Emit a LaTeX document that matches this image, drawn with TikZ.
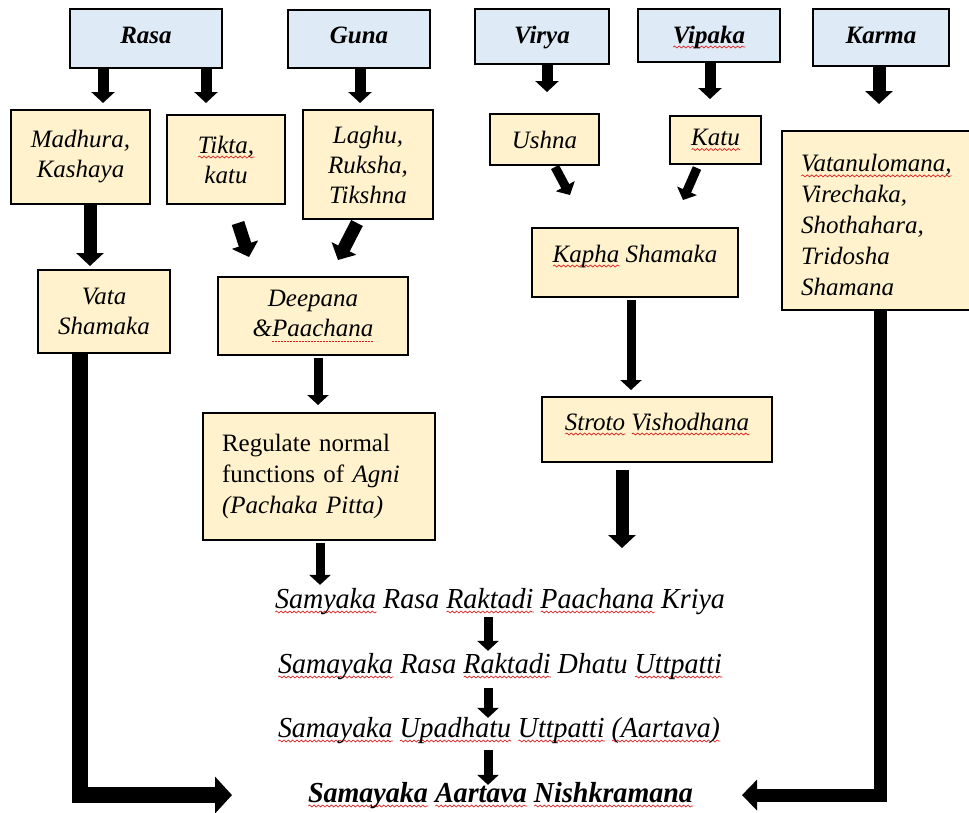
\documentclass[tikz,border=0pt]{standalone}
\usepackage{fontspec}
\setmainfont{Liberation Serif}
\usepackage{graphicx}
\usetikzlibrary{arrows.meta,decorations.pathmorphing,calc}
\definecolor{hdrblue}{HTML}{DEEBF7}
\definecolor{boxylw}{HTML}{FFF2CC}
\definecolor{squig}{HTML}{E02020}
\newsavebox\sqbox
\newsavebox\fitbox
\newcommand\sq[1]{\sbox\sqbox{#1}\rlap{\tikz[baseline=0pt]\draw[squig,line width=0.7pt,decorate,decoration={snake,amplitude=1pt,segment length=4.5pt}] (0pt,-4pt) -- (\the\wd\sqbox,-4pt);}\usebox\sqbox}
\newcommand\dq[1]{\sbox\sqbox{#1}\rlap{\tikz[baseline=0pt]\draw[squig,line width=0.9pt,dash pattern=on 1.5pt off 1.5pt] (0pt,-4pt) -- (\the\wd\sqbox,-4pt);}\usebox\sqbox}
\newcommand\fitto[2]{\sbox\fitbox{#2}\pgfmathsetmacro\fitsx{#1/\the\wd\fitbox}\scalebox{\fitsx}[1]{\usebox\fitbox}}
\begin{document}
\begin{tikzpicture}[x=1pt,y=-1pt,
  hdr/.style={draw,line width=2.5pt,fill=hdrblue,inner sep=0pt,outer sep=0pt,
    font=\fontsize{25}{30}\selectfont\bfseries\itshape,text height=17pt},
  ybox/.style={draw,line width=2.5pt,fill=boxylw,inner sep=0pt,outer sep=0pt,align=center,
    font=\fontsize{25}{30}\selectfont\itshape},
  flow/.style={inner sep=0pt,outer sep=0pt,anchor=base,font=\fontsize{29}{32}\selectfont\itshape},
  arrM/.style={line width=11pt,-{Triangle[width=23pt,length=11pt]}},
  arrK/.style={line width=13pt,-{Triangle[width=27pt,length=13pt]}},
  arrS/.style={line width=9pt,-{Triangle[width=21pt,length=10pt]}},
  bigL/.style={line width=16pt,line join=miter,-{Triangle[width=36pt,length=17pt]},shorten >=76pt},
  bigR/.style={line width=13pt,line join=miter,-{Triangle[width=30pt,length=15pt]},shorten >=49pt}]
\useasboundingbox (0,0) rectangle (969,812);

% header boxes
\node[hdr,minimum width=152pt,minimum height=59pt,text depth=8pt] (rasa) at (146,38.5) {Rasa};
\node[hdr,minimum width=142pt,minimum height=58pt,text depth=9pt] (guna) at (359,39) {Guna};
\node[hdr,minimum width=134pt,minimum height=55pt,text depth=4pt] (virya) at (542,36.5) {Virya};
\node[hdr,minimum width=142pt,minimum height=53pt,text depth=2pt] (vipaka) at (709,35.5) {\sq{Vipaka}};
\node[hdr,minimum width=136pt,minimum height=57pt,text depth=6pt] (karma) at (881,37.5) {Karma};

% second row
\node[ybox,minimum width=139pt,minimum height=94pt] (madhura) at (80.5,157) {Madhura,\\Kashaya};
\node[ybox,minimum width=118pt,minimum height=89pt] (tikta) at (226,159.5) {\sq{Tikta,}\\katu};
\node[ybox,minimum width=130pt,minimum height=109pt] (laghu) at (368,164.5) {Laghu,\\Ruksha,\\Tikshna};
\node[ybox,minimum width=109pt,minimum height=51pt] (ushna) at (544.5,139.5) {Ushna};
\node[ybox,minimum width=91pt,minimum height=48pt] (katu) at (715.5,140) {\sq{Katu}};
\node[ybox,minimum width=193pt,minimum height=179pt,align=left,text width=155pt,inner xsep=19pt,
  font=\fontsize{25}{31}\selectfont\itshape] (karmabox) at (878.5,220.5)
  {\rule{0pt}{27pt}\sq{Vatanulomana,}\\Virechaka,\\Shothahara,\\Tridosha\\Shamana};

% third row
\node[ybox,minimum width=132pt,minimum height=83pt] (vata) at (104,311.5) {Vata\\Shamaka};
\node[ybox,minimum width=190pt,minimum height=78pt] (deepana) at (313,316) {Deepana\\\&\dq{Paachana}};
\node[ybox,minimum width=206pt,minimum height=69pt,text height=17pt,text depth=18pt] (kapha) at (635,262.5) {\sq{Kapha} Shamaka};
\node[ybox,minimum width=232pt,minimum height=127pt,align=left,text width=194pt,inner xsep=19pt,
  font=\fontsize{25}{31}\selectfont] (regulate) at (319,476.5)
  {Regulate normal\\functions of \textit{Agni}\\\textit{(Pachaka Pitta)}};
\node[ybox,minimum width=230pt,minimum height=65pt,text height=17pt,text depth=16pt] (stroto) at (657,429.5) {\sq{Stroto} \sq{Vishodhana}};

% flow text
\node[flow] (l1) at (500,608) {\fitto{450}{\sq{Samyaka} Rasa \sq{Raktadi} \sq{Paachana} Kriya}};
\node[flow] (l2) at (500,673) {\fitto{444}{\sq{Samayaka} Rasa \sq{Raktadi} Dhatu \sq{Uttpatti}}};
\node[flow] (l3) at (499,737) {\fitto{442}{\sq{Samayaka} \sq{Upadhatu} \sq{Uttpatti} \sq{(Aartava)}}};
\node[flow,font=\fontsize{29}{32}\selectfont\bfseries\itshape] (l4) at (500.5,802) {\fitto{385}{\sq{Samayaka} \sq{Aartava} \sq{Nishkramana}}};

% arrows
\draw[arrM] ($(rasa.south)+(-43,0)$) -- ($(madhura.north)+(22.5,-7)$);
\draw[arrM] ($(rasa.south)+(60,0)$) -- ($(tikta.north)+(-20,-12)$);
\draw[arrM] ($(guna.south)+(1,0)$) -- ($(laghu.north)+(-8,-7)$);
\draw[arrM] ($(virya.south)+(5,0)$) -- ($(ushna.north)+(2.5,-22)$);
\draw[arrM] ($(vipaka.south)+(1,0)$) -- ($(katu.north)+(-5.5,-17)$);
\draw[arrK] ($(karma.south)+(-2,0)$) -- ($(karmabox.north)+(0.5,-27)$);
\draw[arrK] ($(madhura.south)+(9.5,0)$) -- ($(vata.north)+(-14,-4)$);
\draw[arrK] ($(tikta.south)+(12,19)$) -- ($(deepana.north)+(-64,-20)$);
\draw[arrK] ($(laghu.south)+(-11,4)$) -- ($(deepana.north)+(25,-17)$);
\draw[arrS] ($(ushna.south)+(10.5,2)$) -- ($(kapha.north)+(-65,-33)$);
\draw[arrS] ($(katu.south)+(-18.5,4)$) -- ($(kapha.north)+(48,-28)$);
\draw[arrS] ($(kapha.south)+(-4,3)$) -- ($(stroto.north)+(-26,-7)$);
\draw[arrS] ($(deepana.south)+(5,3)$) -- ($(regulate.north)+(-1,-8)$);
\draw[arrS] ($(regulate.south)+(1,3)$) -- ($(regulate.south |- l1.north)+(1,-3)$);
\coordinate (stroend) at (622,548);
\draw[arrK] ($(stroto.south)+(-35,8)$) -- (stroend);
\draw[arrS] ($(l1.south)+(-12,3)$) -- ($(l2.north)+(-12,-2)$);
\draw[arrS] ($(l2.south)+(-12,9)$) -- ($(l3.north)+(-11,1)$);
\draw[arrS] ($(l3.south)+(-11,7)$) -- ($(l4.north)+(-12.5,3)$);
\draw[bigL] ($(vata.south)+(-24,0)$) |- (l4.west);
\draw[bigR] ($(karmabox.south)+(1.5,0)$) |- (l4.east);
\end{tikzpicture}
\end{document}
